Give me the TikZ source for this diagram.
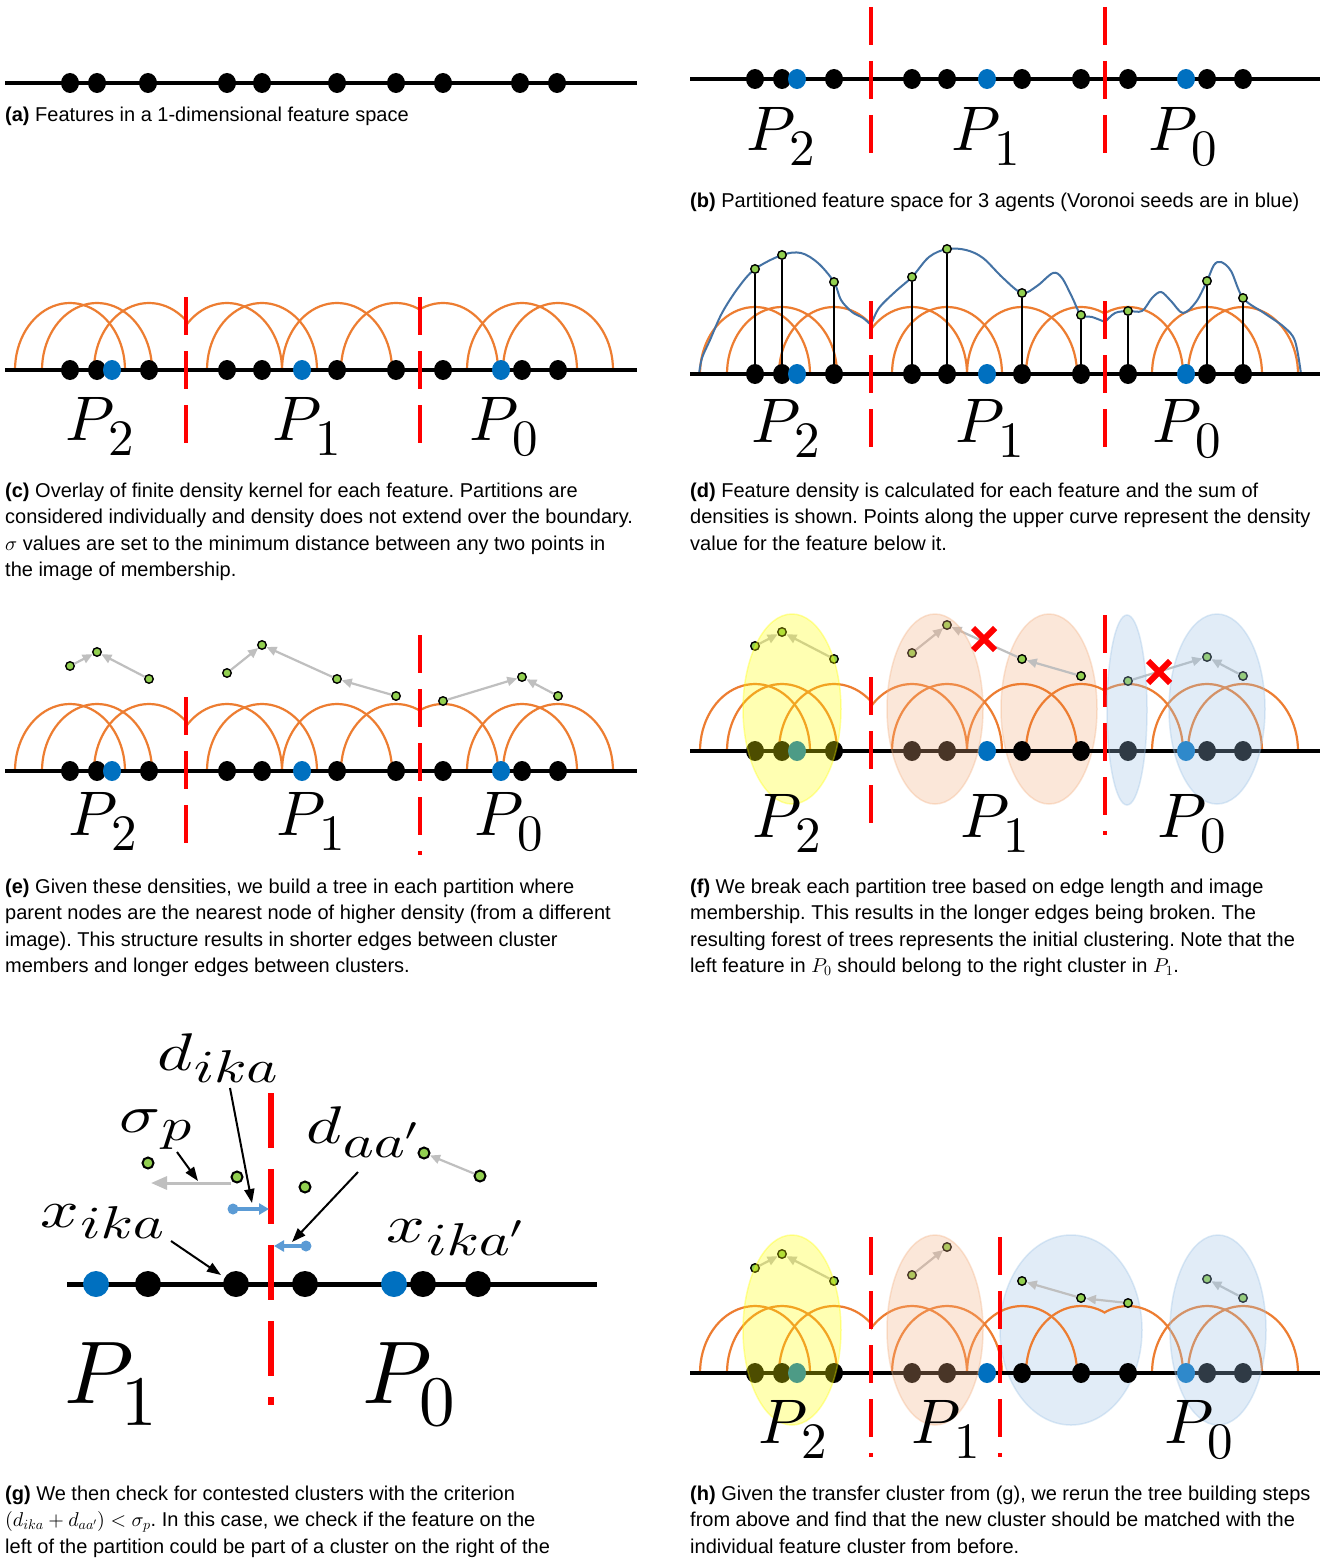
\documentclass[tikz,border=0pt]{standalone}
\usepackage[no-math]{fontspec}
\setmainfont{Liberation Sans}
\usepackage{graphicx}
\usetikzlibrary{shapes.geometric,arrows.meta}
% scalable math fonts for the large labels
\DeclareFontShape{OML}{cmm}{m}{it}{<->cmmi10}{}
\DeclareFontShape{OML}{cmm}{b}{it}{<->cmmib10}{}
\DeclareFontShape{OT1}{cmr}{m}{n}{<->cmr10}{}
\DeclareFontShape{OMS}{cmsy}{m}{n}{<->cmsy10}{}

\definecolor{korange}{HTML}{ED7D31}
\definecolor{seed}{HTML}{0070C0}
\definecolor{dens}{HTML}{92D050}
\definecolor{arrgray}{HTML}{BFBFBF}
\definecolor{curveblue}{RGB}{68,114,164}
\definecolor{clyellow}{HTML}{FFFF00}
\definecolor{clorange}{HTML}{F4B183}
\definecolor{clblue}{HTML}{9DC3E6}
\definecolor{lblue}{HTML}{5B9BD5}

\newcommand\capfont{\fontsize{20}{26}\selectfont\frenchspacing}
% partition labels P_i (small panels and the zoomed panel)
\newcommand\Psub[1]{{\fontsize{63}{63}\selectfont$P$}\kern-6pt\raisebox{-15pt}{\fontsize{51}{51}\selectfont$#1$}}
\newcommand\PsubL[1]{{\fontsize{89}{89}\selectfont$P$}\kern-12pt\raisebox{-22pt}{\fontsize{71}{71}\selectfont$#1$}}
% symbol labels with large subscripts
\newcommand\glab[3]{\scalebox{1.28}[1]{{\fontsize{53}{53}\selectfont$#1$}\kern1pt\raisebox{-#3pt}{\fontsize{46}{46}\selectfont$#2$}}}

\tikzset{
  axisline/.style={line width=4pt},
  fdot/.style={ellipse, fill=black, inner sep=0pt, minimum width=18pt, minimum height=20pt},
  sdot/.style={fdot, fill=seed},
  gdot/.style={circle, fill=dens, draw=black, line width=1.4pt, inner sep=0pt, minimum size=8.5pt},
  kernarc/.style={draw=korange, line width=2.2pt},
  rdash/.style={draw=red, line width=4.5pt, dash pattern=on 38pt off 16pt},
  garrow/.style={draw=arrgray, line width=2.2pt, -{Triangle[length=10pt,width=9pt]}},
  stemline/.style={draw=black, line width=1.5pt},
  dcurve/.style={draw=curveblue, line width=2pt},
  captext/.style={inner sep=0pt, anchor=base west, font=\capfont},
  plab/.style={inner sep=0pt, anchor=base west},
  cly/.style={fill=clyellow, draw=clyellow, fill opacity=0.3, draw opacity=0.35, line width=1.5pt},
  clo/.style={fill=clorange, draw=clorange, fill opacity=0.3, draw opacity=0.35, line width=1.5pt},
  clb/.style={fill=clblue, draw=clblue, fill opacity=0.3, draw opacity=0.35, line width=1.5pt},
  xmark/.style={draw=red, line width=6pt},
  bigdot/.style={ellipse, fill=black, inner sep=0pt, minimum width=26pt, minimum height=26pt},
  bigseed/.style={bigdot, fill=seed},
  biggdot/.style={circle, fill=dens, draw=black, line width=2pt, inner sep=0pt, minimum size=11pt},
  bigdash/.style={draw=red, line width=6pt, dash pattern=on 55pt off 21pt},
  annot/.style={draw=black, line width=2pt, -{Triangle[length=14pt,width=10pt]}},
  barrow/.style={draw=lblue, line width=3.5pt, -{Triangle[length=10pt,width=11pt]}},
  btail/.style={circle, fill=lblue, inner sep=0pt, minimum size=11pt},
  sigarrow/.style={draw=arrgray, line width=3pt, -{Triangle[length=16pt,width=13pt]}},
  glabel/.style={inner sep=0pt, anchor=base west},
}

% finite density kernels, clipped to each partition
\newcommand\kernels[2]{%
  \begin{scope}[shift={(#1,#2)}]
    \begin{scope}
      \clip (0,-95) rectangle (186,2);
      \foreach \kx in {70,97,149}{\draw[kernarc] plot[domain=0:180,samples=41] ({\kx+55*cos(\x)},{-67*sin(\x)});}
    \end{scope}
    \begin{scope}
      \clip (186,-95) rectangle (420,2);
      \foreach \kx in {227,262,337,396}{\draw[kernarc] plot[domain=0:180,samples=41] ({\kx+55*cos(\x)},{-67*sin(\x)});}
    \end{scope}
    \begin{scope}
      \clip (420,-95) rectangle (660,2);
      \foreach \kx in {443,522,558}{\draw[kernarc] plot[domain=0:180,samples=41] ({\kx+55*cos(\x)},{-67*sin(\x)});}
    \end{scope}
  \end{scope}}

% feature axis with features and Voronoi seeds: tag, x offset, baseline, right end
\newcommand\featrow[4]{%
  \draw[axisline] (#2+5,#3) -- (#2+#4,#3);
  \foreach \kx/\ks [count=\k] in {70/fdot,97/fdot,112/sdot,149/fdot,227/fdot,262/fdot,302/sdot,337/fdot,396/fdot,443/fdot,501/sdot,522/fdot,558/fdot}
    \node[\ks] (#1f\k) at (#2+\kx,#3) {};}

% density values used for the trees: tag, x offset, baseline
\newcommand\treerow[3]{%
  \foreach \kx/\kh [count=\k] in {70/105,97/119,149/92,227/98,262/126,337/92,396/75,443/70,522/94,558/75}
    \node[gdot] (#1g\k) at (#2+\kx,#3-\kh) {};}

\begin{document}
\begin{tikzpicture}[x=1pt,y=-1pt]
\useasboundingbox (0,0) rectangle (1330,1560);
\fill[white] (0,0) rectangle (1330,1560);

% ---------------- (a) ----------------
\draw[axisline] (5,83) -- (637,83);
\foreach \kx [count=\k] in {70,97,148,227,262,337,396,443,520,557}
  \node[fdot] (af\k) at (\kx,83) {};
\node[captext] (capa) at (5,122) {\textbf{(a)} Features in a 1-dimensional feature space};

% ---------------- (b) ----------------
\featrow{b}{685}{79}{635}
\draw[rdash] (871,7) -- (871,154);
\draw[rdash] (1105,7) -- (1105,154);
\node[plab] (bP2) at (746,150) {\Psub{2}};
\node[plab] (bP1) at (951,150) {\Psub{1}};
\node[plab] (bP0) at (1148,150) {\Psub{0}};
\node[captext] (capb) at (690,207) {\textbf{(b)} Partitioned feature space for 3 agents (Voronoi seeds are in blue)};

% ---------------- (c) ----------------
\kernels{0}{370}
\featrow{c}{0}{370}{637}
\draw[rdash] (186,297) -- (186,444);
\draw[rdash] (420,297) -- (420,444);
\node[plab] (cP2) at (65,440) {\Psub{2}};
\node[plab] (cP1) at (272,440) {\Psub{1}};
\node[plab] (cP0) at (469,440) {\Psub{0}};
\node[captext] (capc1) at (5,497) {\textbf{(c)} Overlay of finite density kernel for each feature. Partitions are};
\node[captext] (capc2) at (5,523.5) {considered individually and density does not extend over the boundary.};
\node[captext] (capc3) at (5,550) {$\sigma$ values are set to the minimum distance between any two points in};
\node[captext] (capc4) at (5,576.5) {the image of membership.};

% ---------------- (d) ----------------
\kernels{685}{374}
\draw[dcurve] plot[smooth,tension=0.55] coordinates {(699,374) (702,358) (710,340) (722,313) (738,288) (755,269) (782,255) (801,253) (818,263) (834,282) (841,300) (852,312) (863,318) (871,325)};
\draw[dcurve] plot[smooth,tension=0.55] coordinates {(871,325) (879,308) (896,291) (912,277) (929,257) (947,249) (966,250) (983,258) (1003,278) (1022,293) (1037,286) (1053,273) (1062,278) (1072,297) (1081,315) (1092,317) (1105,322)};
\draw[dcurve] plot[smooth,tension=0.55] coordinates {(1105,322) (1115,313) (1128,311) (1142,311) (1152,298) (1161,292) (1171,301) (1183,313) (1196,302) (1207,281) (1214,265) (1221,262) (1231,271) (1243,298) (1264,313) (1284,327) (1295,341) (1301,374)};
\featrow{d}{685}{374}{635}
\foreach \kx/\kh/\kf [count=\k] in {70/105/1,97/119/2,149/92/4,227/97/5,262/125/6,337/81/8,396/59/9,443/63/10,522/93/12,558/76/13}{
  \node[gdot] (dg\k) at (685+\kx,374-\kh) {};
  \draw[stemline] (df\kf) -- (dg\k);
}
\draw[rdash] (871,301) -- (871,448);
\draw[rdash] (1105,301) -- (1105,448);
\node[plab] (dP2) at (751,442) {\Psub{2}};
\node[plab] (dP1) at (955,442) {\Psub{1}};
\node[plab] (dP0) at (1152,442) {\Psub{0}};
\node[captext] (capd1) at (690,497) {\textbf{(d)} Feature density is calculated for each feature and the sum of};
\node[captext] (capd2) at (690,523.5) {densities is shown. Points along the upper curve represent the density};
\node[captext] (capd3) at (690,550) {value for the feature below it.};

% ---------------- (e) ----------------
\kernels{0}{771}
\featrow{e}{0}{771}{637}
\treerow{e}{0}{771}
\draw[garrow] (eg1) -- (eg2);
\draw[garrow] (eg3) -- (eg2);
\draw[garrow] (eg4) -- (eg5);
\draw[garrow] (eg6) -- (eg5);
\draw[garrow] (eg7) -- (eg6);
\draw[garrow] (eg8) -- (eg9);
\draw[garrow] (eg10) -- (eg9);
\draw[rdash] (186,697) -- (186,843);
\draw[rdash] (420,635) -- (420,855);
\node[plab] (eP2) at (68,835) {\Psub{2}};
\node[plab] (eP1) at (276,835) {\Psub{1}};
\node[plab] (eP0) at (474,835) {\Psub{0}};
\node[captext] (cape1) at (5,893) {\textbf{(e)} Given these densities, we build a tree in each partition where};
\node[captext] (cape2) at (5,919.5) {parent nodes are the nearest node of higher density (from a different};
\node[captext] (cape3) at (5,946) {image). This structure results in shorter edges between cluster};
\node[captext] (cape4) at (5,972.5) {members and longer edges between clusters.};

% ---------------- (f) ----------------
% this cluster lies behind the features
\path[clo] (1049,709) ellipse [x radius=48pt, y radius=95pt];
\kernels{685}{751}
\featrow{f}{685}{751}{635}
\treerow{f}{685}{751}
\draw[garrow] (fg1) -- (fg2);
\draw[garrow] (fg3) -- (fg2);
\draw[garrow] (fg4) -- (fg5);
\draw[garrow] (fg6) -- (fg5);
\draw[garrow] (fg7) -- (fg6);
\draw[garrow] (fg8) -- (fg9);
\draw[garrow] (fg10) -- (fg9);
\draw[rdash] (871,677) -- (871,824);
\draw[rdash] (1105,615) -- (1105,835);
% initial clusters
\path[cly] (792,709) ellipse [x radius=49pt, y radius=95pt];
\path[clo] (935,709) ellipse [x radius=48pt, y radius=95pt];
\path[clb] (1127,710) ellipse [x radius=20pt, y radius=95pt];
\path[clb] (1217,709) ellipse [x radius=48pt, y radius=95pt];
% broken edges
\draw[xmark] (973,628) -- (995,650) (973,650) -- (995,628);
\draw[xmark] (1148,661) -- (1170,683) (1148,683) -- (1170,661);
\node[plab] (fP2) at (752,837) {\Psub{2}};
\node[plab] (fP1) at (960,837) {\Psub{1}};
\node[plab] (fP0) at (1157,837) {\Psub{0}};
\node[captext] (capf1) at (690,893) {\textbf{(f)} We break each partition tree based on edge length and image};
\node[captext] (capf2) at (690,919.5) {membership. This results in the longer edges being broken. The};
\node[captext] (capf3) at (690,946) {resulting forest of trees represents the initial clustering. Note that the};
\node[captext] (capf4) at (690,972.5) {left feature in $P_0$ should belong to the right cluster in $P_1$.};

% ---------------- (g) ----------------
\draw[line width=5pt] (67,1284) -- (597,1284);
\node[bigseed] (gf1) at (96,1284) {};
\node[bigdot] (gf2) at (148,1284) {};
\node[bigdot] (gf3) at (236,1284) {};
\node[bigdot] (gf4) at (305,1284) {};
\node[bigseed] (gf5) at (394,1284) {};
\node[bigdot] (gf6) at (423,1284) {};
\node[bigdot] (gf7) at (478,1284) {};
\draw[bigdash] (271,1093) -- (271,1405);
\node[glabel] (ldika) at (157,1070) {\glab{d}{ika}{12}};
\node[glabel] (lsigp) at (119,1132) {\glab{\sigma}{p}{8}};
\node[glabel] (ldaa) at (306,1143) {\glab{d}{aa'}{14}};
\node[glabel] (lxika) at (40,1227) {\glab{x}{ika}{11}};
\node[glabel] (lxika2) at (386,1242) {\glab{x}{ika'}{13}};
\node[biggdot] (gg1) at (148,1163) {};
\node[biggdot] (gg2) at (237,1177) {};
\node[biggdot] (gg3) at (305,1187) {};
\node[biggdot] (gg4) at (424,1153) {};
\node[biggdot] (gg5) at (480,1176) {};
\coordinate (sigS) at (231,1183);
\coordinate (sigE) at (151,1183);
\draw[sigarrow] (sigS) -- (sigE);
\draw[garrow] (gg5) -- (gg4);
\node[btail] (bt1) at (233,1209) {};
\coordinate (bh1) at (269,1209);
\draw[barrow] (bt1.center) -- (bh1);
\node[btail] (bt2) at (306,1246) {};
\coordinate (bh2) at (274,1246);
\draw[barrow] (bt2.center) -- (bh2);
\coordinate (aS1) at (230,1088);
\coordinate (aE1) at (252,1203);
\coordinate (aS2) at (177,1152);
\coordinate (aE2) at (198,1181);
\coordinate (aS3) at (358,1172);
\coordinate (aE3) at (292,1242);
\coordinate (aS4) at (171,1241);
\coordinate (aE4) at (221,1275);
\draw[annot] (aS1) -- (aE1);
\draw[annot] (aS2) -- (aE2);
\draw[annot] (aS3) -- (aE3);
\draw[annot] (aS4) -- (aE4);
\node[plab] (gP1) at (64,1403) {\PsubL{1}};
\node[plab] (gP0) at (362,1403) {\PsubL{0}};
\node[captext] (capg1) at (5,1500) {\textbf{(g)} We then check for contested clusters with the criterion};
\node[captext] (capg2) at (5,1526.5) {$(d_{ika}+d_{aa'})<\sigma_p$. In this case, we check if the feature on the};
\node[captext] (capg3) at (5,1553) {left of the partition could be part of a cluster on the right of the};

% ---------------- (h) ----------------
% the merged cluster lies behind the features
\path[clb] (1071,1330) ellipse [x radius=71pt, y radius=95pt];
\kernels{685}{1373}
\featrow{h}{685}{1373}{635}
\treerow{h}{685}{1373}
\draw[garrow] (hg1) -- (hg2);
\draw[garrow] (hg3) -- (hg2);
\draw[garrow] (hg4) -- (hg5);
\draw[garrow] (hg7) -- (hg6);
\draw[garrow] (hg8) -- (hg7);
\draw[garrow] (hg10) -- (hg9);
\draw[rdash] (871,1237) -- (871,1457);
\draw[rdash] (1000,1237) -- (1000,1457);
\path[cly] (792,1330) ellipse [x radius=49pt, y radius=95pt];
\path[clo] (935,1330) ellipse [x radius=48pt, y radius=95pt];
\path[clb] (1218,1330) ellipse [x radius=48pt, y radius=95pt];
\node[plab] (hP2) at (758,1443) {\Psub{2}};
\node[plab] (hP1) at (911,1443) {\Psub{1}};
\node[plab] (hP0) at (1164,1443) {\Psub{0}};
\node[captext] (caph1) at (690,1500) {\textbf{(h)} Given the transfer cluster from (g), we rerun the tree building steps};
\node[captext] (caph2) at (690,1526.5) {from above and find that the new cluster should be matched with the};
\node[captext] (caph3) at (690,1553) {individual feature cluster from before.};
\end{tikzpicture}
\end{document}
